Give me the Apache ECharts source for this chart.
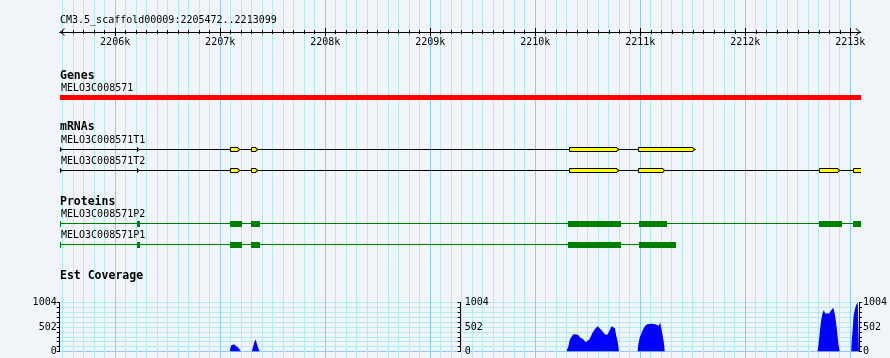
<!DOCTYPE html>
<html><head><meta charset="utf-8">
<script src="https://cdn.jsdelivr.net/npm/echarts@6/dist/echarts.min.js"></script>
<style>html,body{margin:0;padding:0;background:#F1F5FA}#c{width:890px;height:358px}</style>
</head><body><div id="c"></div>
<script>
// ---------- data ----------
const viewStart = 2205472, viewEnd = 2213099;
const regionTitle = 'CM3.5_scaffold00009:2205472..2213099';
const trackTitles = ['Genes', 'mRNAs', 'Proteins', 'Est Coverage'];
const geneName = 'MELO3C008571';
const geneSpan = [2205472, 2213099];
const mrnaNames = ['MELO3C008571T1', 'MELO3C008571T2'];
const mrnaT1Exons = [[2205472,2205496],[2206207,2206229],[2207096,2207191],[2207295,2207359],[2210317,2210799],[2210983,2211523]];
const mrnaT2Exons = [[2205472,2205496],[2206207,2206229],[2207096,2207191],[2207295,2207359],[2210317,2210799],[2210983,2211237],[2212704,2212904],[2213030,2213150]];
const proteinNames = ['MELO3C008571P2', 'MELO3C008571P1'];
const proteinP2Cds = [[2205472,2205482],[2206207,2206239],[2207096,2207207],[2207295,2207378],[2210314,2210819],[2210985,2211257],[2212704,2212923],[2213027,2213150]];
const proteinP1Cds = [[2205472,2205482],[2206207,2206239],[2207096,2207207],[2207295,2207378],[2210314,2210819],[2210985,2211342]];
const coveragePos = [2207096,2207102,2207108,2207121,2207134,2207146,2207165,2207184,2207197,2207203,
  2207305,2207312,2207317,2207331,2207343,2207355,2207369,2207381,
  2210307,2210314,2210326,2210340,2210359,2210371,2210397,2210421,2210440,2210466,2210492,2210511,2210530,2210555,2210580,2210606,2210625,2210650,2210676,2210701,2210720,2210739,2210755,2210771,2210783,2210797,2210809,
  2210987,2210993,2211006,2211025,2211037,2211057,2211076,2211095,2211120,2211139,2211158,2211177,2211190,2211202,2211216,2211228,2211240,2211246,
  2212704,2212713,2212726,2212739,2212751,2212764,2212777,2212796,2212815,2212828,2212840,2212853,2212866,2212878,2212891,2212904,2212916,
  2213025,2213030,2213040,2213049,2213063,2213075,2213088,2213099];
const coverageVal = [0,81,122,149,149,122,95,54,27,0,
  0,54,95,203,244,149,54,0,
  0,35,103,240,309,350,355,336,282,254,192,185,254,378,460,515,488,419,350,350,433,515,543,474,323,206,0,
  0,137,275,378,447,515,556,570,570,598,556,556,529,598,447,309,137,0,
  0,136,407,644,780,848,780,800,780,827,848,895,800,644,407,136,0,
  0,204,475,746,882,963,1004,1004];
const coverageMax = 1004;
const coverageLabels = [0, 502, 1004];
const rulerMajorTicks = [2206000,2207000,2208000,2209000,2210000,2211000,2212000,2213000];
const rulerMinorTicks = [];
for (let v = 2205500; v <= 2213000; v += 100) rulerMinorTicks.push(v);

// ---------- layout / style ----------
const MONO = '"DejaVu Sans Mono"';
const GRID_LEFT = 59.7, GRID_WIDTH = 801;
const ROW_Y = [95, 149.5, 170.5, 223.5, 244.5]; // gene, T1, T2, P2, P1
const C_MINOR = '#AFEEEE', C_MAJOR = '#87CEFA';
const CHEV = 'path://M5,0 L10,6 L8.6,6 L5,1.6 L1.4,6 L0,6 Z';

// build track items: [start, end, kind, row]
const trackData = [];
trackData.push([geneSpan[0], geneSpan[1], 0, 0]);
function addMrna(exons, row) {
  trackData.push([exons[0][0], exons[exons.length - 1][1], 1, row]);
  exons.forEach(e => trackData.push([e[0], e[1], 2, row]));
}
function addProtein(cds, row) {
  trackData.push([cds[0][0], cds[cds.length - 1][1], 3, row]);
  cds.forEach(e => trackData.push([e[0], e[1], 4, row]));
}
addMrna(mrnaT1Exons, 1);
addMrna(mrnaT2Exons, 2);
addProtein(proteinP2Cds, 3);
addProtein(proteinP1Cds, 4);

function renderTrack(params, api) {
  const s = api.value(0), e = api.value(1), kind = api.value(2), row = api.value(3);
  const x1 = Math.round(api.coord([s, 0])[0]), x2 = Math.round(api.coord([e, 0])[0]);
  const y = ROW_Y[row];
  if (kind === 0) return {type: 'rect', shape: {x: x1, y: y, width: x2 - x1, height: 5}, style: {fill: '#FF0000'}};
  if (kind === 1) return {type: 'line', shape: {x1: x1, y1: y, x2: x2, y2: y}, style: {stroke: '#000', lineWidth: 1}};
  if (kind === 3) return {type: 'line', shape: {x1: x1, y1: y, x2: x2, y2: y}, style: {stroke: '#008000', lineWidth: 1}};
  if (kind === 4) return {type: 'rect', shape: {x: x1, y: y - 2.5, width: Math.max(1, x2 - x1), height: 6}, style: {fill: '#008000'}};
  // exon with strand arrow
  const top = y - 2, bot = y + 2;
  const a = x1 + 0.5, b = x2 + 0.5;
  const xa = Math.max(a, b - 2.5);
  return {type: 'polygon', shape: {points: [[a, top], [xa, top], [xa, top + 1], [b, y], [xa, bot - 1], [xa, bot], [a, bot]]},
    style: {fill: '#FFFF00', stroke: '#000', lineWidth: 1}};
}

function renderGrid(params, api) {
  const v = api.value(0);
  const x = Math.floor(api.coord([v, 0])[0]) + 0.5;
  return {type: 'line', shape: {x1: x, y1: 0, x2: x, y2: 358},
    style: {stroke: v % 1000 === 0 ? C_MAJOR : C_MINOR, lineWidth: 1}};
}

const texts = [
  {t: regionTitle, x: 60, y: 20.5, b: false},
  {t: trackTitles[0], x: 60, y: 76, b: true},
  {t: geneName, x: 61, y: 88.5, b: false},
  {t: trackTitles[1], x: 60, y: 127.5, b: true},
  {t: mrnaNames[0], x: 61, y: 140, b: false},
  {t: mrnaNames[1], x: 61, y: 161.5, b: false},
  {t: trackTitles[2], x: 60, y: 201.7, b: true},
  {t: proteinNames[0], x: 61, y: 214, b: false},
  {t: proteinNames[1], x: 61, y: 235, b: false},
  {t: trackTitles[3], x: 60, y: 276, b: true}
];

function rulerAxis(extra) {
  return Object.assign({
    gridIndex: 0, type: 'value', min: viewStart, max: viewEnd, position: 'top', z: 5,
    axisLine: {show: false, onZero: false},
    axisTick: {show: false},
    axisLabel: {show: false},
    splitLine: {show: false}
  }, extra);
}
const covAxisBase = {gridIndex: 1, type: 'value', min: 0, max: coverageMax, interval: coverageMax / 10};
const covLabelFmt = v => String(Math.round(v));

const chart = echarts.init(document.getElementById('c'), null, {renderer: 'canvas'});
chart.setOption({
  backgroundColor: '#F1F5FA',
  animation: false,
  grid: [
    {left: GRID_LEFT, width: GRID_WIDTH, top: 32, height: 326},
    {left: GRID_LEFT, width: GRID_WIDTH, top: 302.5, height: 49}
  ],
  xAxis: [
    rulerAxis({
      axisLine: {show: true, onZero: false, lineStyle: {color: '#000', width: 1}, symbol: [CHEV, CHEV], symbolSize: [8, 5], symbolOffset: [2.5, -2.5]},
      axisTick: {show: true, customValues: rulerMinorTicks, length: 2, inside: false, lineStyle: {color: '#000'}},
      axisLabel: {show: true, customValues: rulerMajorTicks, inside: true, margin: 5, color: '#000', fontFamily: MONO, fontSize: 10,
        formatter: v => (v / 1000) + 'k'}
    }),
    rulerAxis({axisTick: {show: true, customValues: rulerMinorTicks, length: 2, inside: true, lineStyle: {color: '#000'}}}),
    rulerAxis({axisTick: {show: true, customValues: rulerMajorTicks, length: 4, inside: false, lineStyle: {color: '#000'}}}),
    rulerAxis({axisTick: {show: true, customValues: rulerMajorTicks, length: 4, inside: true, lineStyle: {color: '#000'}}}),
    {gridIndex: 1, type: 'value', min: viewStart, max: viewEnd, show: false, axisLine: {onZero: false}, splitLine: {show: false}}
  ],
  yAxis: [
    {gridIndex: 0, type: 'value', min: 0, max: 1, show: false},
    Object.assign({}, covAxisBase, {position: 'left', z: 0,
      axisLine: {show: true, onZero: false, lineStyle: {color: '#000'}},
      axisTick: {show: true, length: 3, lineStyle: {color: '#000'}},
      axisLabel: {customValues: coverageLabels, margin: 3, color: '#000', fontFamily: MONO, fontSize: 10, formatter: covLabelFmt},
      splitLine: {show: true, lineStyle: {color: [C_MAJOR, C_MINOR, C_MINOR, C_MINOR, C_MINOR, C_MINOR, C_MINOR, C_MINOR, C_MINOR, C_MINOR, C_MINOR], width: 1}}}),
    Object.assign({}, covAxisBase, {position: 'left', offset: -401, z: 5,
      axisLine: {show: true, onZero: false, lineStyle: {color: '#000'}},
      axisTick: {show: true, length: 3, lineStyle: {color: '#000'}},
      axisLabel: {customValues: coverageLabels, inside: true, margin: 4, color: '#000', fontFamily: MONO, fontSize: 10, formatter: covLabelFmt},
      splitLine: {show: false}}),
    Object.assign({}, covAxisBase, {position: 'right', offset: 0, z: 5,
      axisLine: {show: true, onZero: false, lineStyle: {color: '#000'}},
      axisTick: {show: true, length: 3, lineStyle: {color: '#000'}},
      axisLabel: {customValues: coverageLabels, margin: 4, color: '#000', fontFamily: MONO, fontSize: 10, formatter: covLabelFmt},
      splitLine: {show: false}})
  ],
  graphic: texts.map(o => ({type: 'text', x: o.x, y: o.y, z: 10, silent: true,
    style: {text: o.t, fill: '#000', font: (o.b ? 'bold 11.5px ' : '10px ') + MONO, verticalAlign: 'middle'}})),
  series: [
    {type: 'custom', name: 'grid', xAxisIndex: 0, yAxisIndex: 0, z: 1, clip: false, silent: true,
      data: rulerMinorTicks.map(v => [v]), encode: {x: 0}, renderItem: renderGrid},
    {type: 'line', name: 'Est Coverage', xAxisIndex: 4, yAxisIndex: 1, z: 2, symbol: 'none', silent: true,
      data: coveragePos.map((p, i) => [p, coverageVal[i]]),
      lineStyle: {width: 0}, areaStyle: {color: '#0000FF', opacity: 1}},
    {type: 'custom', name: 'tracks', xAxisIndex: 0, yAxisIndex: 0, z: 3, clip: true, silent: true,
      data: trackData, encode: {x: [0, 1]}, renderItem: renderTrack}
  ]
});
</script></body></html>
